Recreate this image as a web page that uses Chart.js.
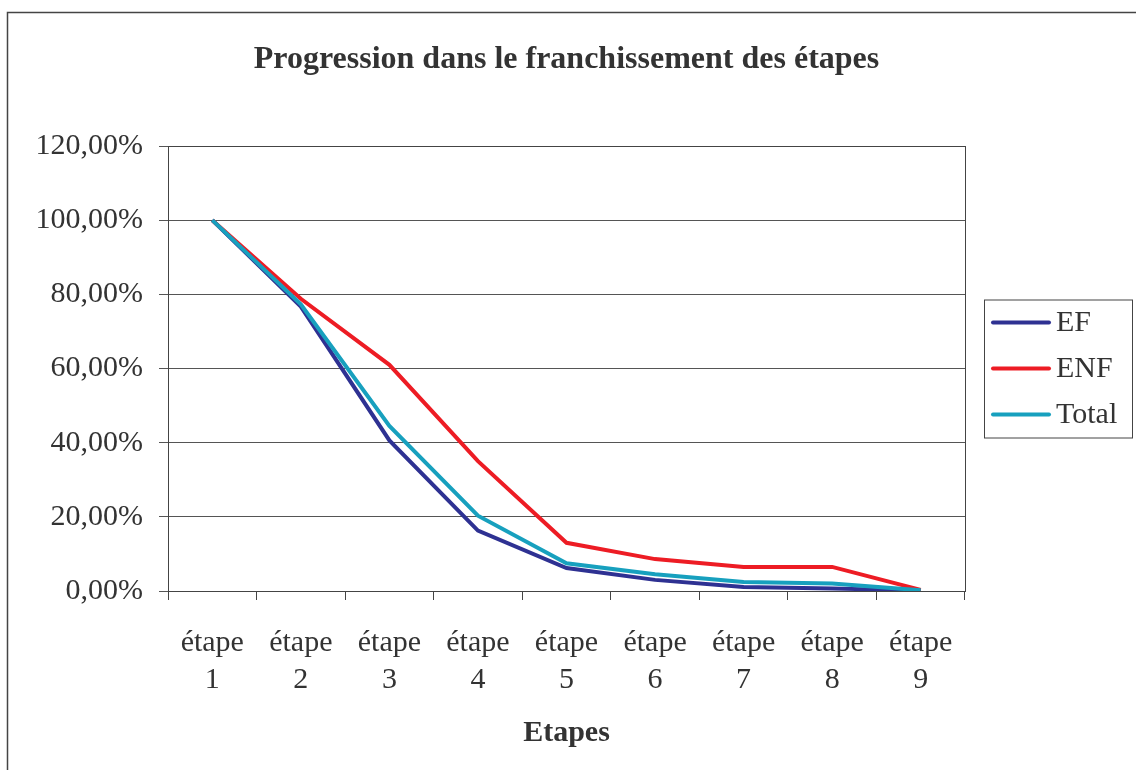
<!DOCTYPE html>
<html>
<head>
<meta charset="utf-8">
<script src="https://cdn.jsdelivr.net/npm/chart.js@4/dist/chart.umd.min.js"></script>
<style>
  html, body { margin: 0; padding: 0; background: #fff; }
  #wrap { width: 1136px; height: 770px; }
</style>
</head>
<body>
<div id="wrap"><canvas id="stepsChart" width="1136" height="770"></canvas></div>
<script>
const steps = ["étape 1", "étape 2", "étape 3", "étape 4", "étape 5", "étape 6", "étape 7", "étape 8", "étape 9"];
const seriesNames = ["EF", "ENF", "Total"];
const efValues = [100, 76.7, 40.6, 16.3, 6.2, 3.0, 1.1, 0.7, 0.1];
const enfValues = [100, 78.8, 61, 35, 13, 8.6, 6.5, 6.5, 0.3];
const totalValues = [100, 77.3, 44.5, 20.3, 7.5, 4.5, 2.4, 2.0, 0.2];
const yTicks = [0, 20, 40, 60, 80, 100, 120];

const colors = ["#2e3192", "#ed1c24", "#17a0be"];
const textColor = "#333";
const serif = "'Liberation Serif', 'Times New Roman', serif";

// frame around the whole chart + box around plot area
const framePlugin = {
  id: "frame",
  afterDraw(chart) {
    const { ctx, chartArea: a } = chart;
    ctx.save();
    ctx.strokeStyle = "#444";
    ctx.lineWidth = 1;
    ctx.strokeRect(a.left + 0.5, a.top + 0.5, a.right - a.left, a.bottom - a.top);
    ctx.lineWidth = 1.5;
    ctx.strokeRect(7.5, 12.5, 1140, 800);
    ctx.restore();
  },
};

// excel-like boxed legend on the right
const boxLegend = {
  id: "boxLegend",
  afterDraw(chart) {
    const { ctx, chartArea: a } = chart;
    const sets = chart.data.datasets;
    const rowGap = 46;
    const midY = (a.top + a.bottom) / 2;
    const x0 = a.right + 19;
    ctx.save();
    ctx.strokeStyle = "#444";
    ctx.lineWidth = 1;
    ctx.strokeRect(x0 + 0.5, midY - 69 + 0.5, 148, 138);
    ctx.font = "30px " + serif;
    ctx.textBaseline = "middle";
    ctx.fillStyle = textColor;
    sets.forEach((ds, i) => {
      const y = midY + (i - 1) * rowGap;
      ctx.strokeStyle = ds.borderColor;
      ctx.lineWidth = 4;
      ctx.lineCap = "round";
      ctx.beginPath();
      ctx.moveTo(x0 + 9, y);
      ctx.lineTo(x0 + 65, y);
      ctx.stroke();
      ctx.fillText(ds.label, x0 + 72, y + 1);
    });
    ctx.restore();
  },
};

const ctx = document.getElementById("stepsChart").getContext("2d");

new Chart(ctx, {
  type: "line",
  data: {
    labels: steps.map((s) => s.split(" ")),
    datasets: [efValues, enfValues, totalValues].map((data, i) => ({
      label: seriesNames[i],
      data,
      borderColor: colors[i],
      backgroundColor: colors[i],
      borderWidth: 4,
      pointRadius: 0,
      tension: 0,
      order: 2 - i,
    })),
  },
  options: {
    responsive: false,
    animation: false,
    layout: { padding: { top: 12, left: 0, right: 171, bottom: 0 } },
    plugins: {
      legend: { display: false },
      tooltip: { enabled: false },
      title: {
        display: true,
        fullSize: false,
        text: "Progression dans le franchissement des étapes",
        color: textColor,
        font: { family: serif, size: 32, weight: "bold", lineHeight: 1.2 },
        padding: { top: 29, bottom: 66.6 },
      },
    },
    scales: {
      x: {
        offset: true,
        grid: { offset: true, drawOnChartArea: false, tickLength: 9, color: "#444" },
        border: { color: "#444" },
        ticks: {
          color: textColor,
          padding: 24,
          maxRotation: 0,
          autoSkip: false,
          font: { family: serif, size: 30, lineHeight: 1.25 },
        },
        title: {
          display: true,
          text: "Etapes",
          color: textColor,
          font: { family: serif, size: 30, weight: "bold", lineHeight: 1.2 },
          padding: { top: 0, bottom: 19 },
        },
        afterFit(scale) {
          scale.height = 179;
        },
      },
      y: {
        min: 0,
        max: 120,
        afterBuildTicks(scale) {
          scale.ticks = yTicks.map((v) => ({ value: v }));
        },
        grid: { color: "#555", tickLength: 9 },
        border: { color: "#444" },
        ticks: {
          color: textColor,
          padding: 16,
          font: { family: serif, size: 30 },
          callback: (v) => v.toFixed(2).replace(".", ",") + "%",
        },
        afterFit(scale) {
          scale.width = 168;
        },
      },
    },
  },
  plugins: [framePlugin, boxLegend],
});
</script>
</body>
</html>
